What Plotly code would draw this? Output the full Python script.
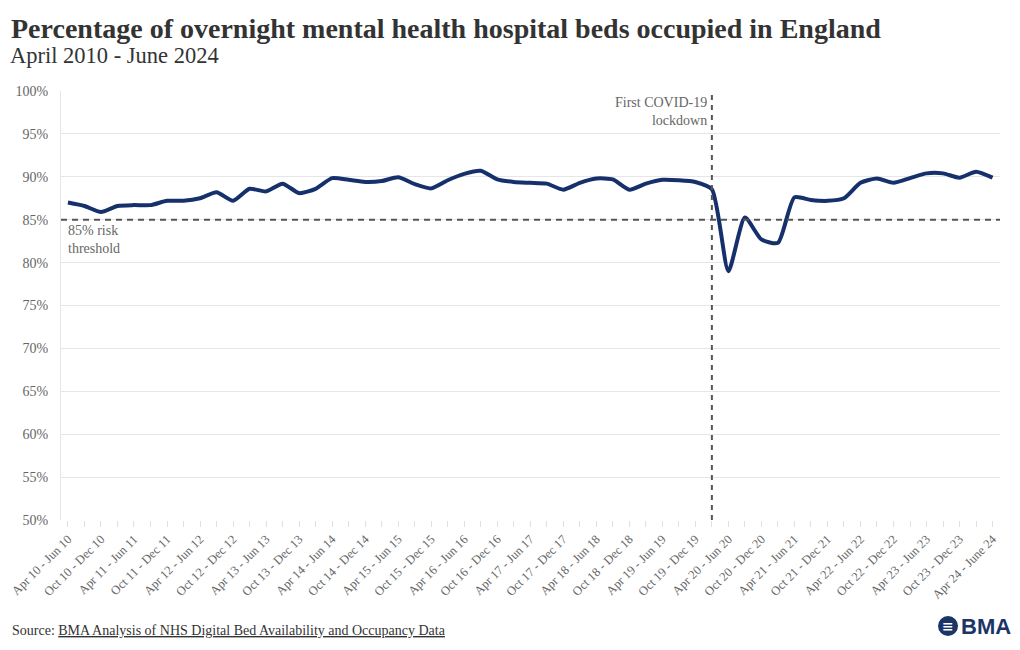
import plotly.graph_objects as go

categories = [
    "Apr 10 - Jun 10", "Jul 10 - Sep 10", "Oct 10 - Dec 10", "Jan 11 - Mar 11",
    "Apr 11 - Jun 11", "Jul 11 - Sep 11", "Oct 11 - Dec 11", "Jan 12 - Mar 12",
    "Apr 12 - Jun 12", "Jul 12 - Sep 12", "Oct 12 - Dec 12", "Jan 13 - Mar 13",
    "Apr 13 - Jun 13", "Jul 13 - Sep 13", "Oct 13 - Dec 13", "Jan 14 - Mar 14",
    "Apr 14 - Jun 14", "Jul 14 - Sep 14", "Oct 14 - Dec 14", "Jan 15 - Mar 15",
    "Apr 15 - Jun 15", "Jul 15 - Sep 15", "Oct 15 - Dec 15", "Jan 16 - Mar 16",
    "Apr 16 - Jun 16", "Jul 16 - Sep 16", "Oct 16 - Dec 16", "Jan 17 - Mar 17",
    "Apr 17 - Jun 17", "Jul 17 - Sep 17", "Oct 17 - Dec 17", "Jan 18 - Mar 18",
    "Apr 18 - Jun 18", "Jul 18 - Sep 18", "Oct 18 - Dec 18", "Jan 19 - Mar 19",
    "Apr 19 - Jun 19", "Jul 19 - Sep 19", "Oct 19 - Dec 19", "Jan 20 - Mar 20",
    "Apr 20 - Jun 20", "Jul 20 - Sep 20", "Oct 20 - Dec 20", "Jan 21 - Mar 21",
    "Apr 21 - Jun 21", "Jul 21 - Sep 21", "Oct 21 - Dec 21", "Jan 22 - Mar 22",
    "Apr 22 - Jun 22", "Jul 22 - Sep 22", "Oct 22 - Dec 22", "Jan 23 - Mar 23",
    "Apr 23 - Jun 23", "Jul 23 - Sep 23", "Oct 23 - Dec 23", "Jan 24 - Mar 24",
    "Apr 24 - June 24",
]

occupancy = [
    87.0, 86.6, 85.9, 86.6, 86.7, 86.7, 87.2, 87.2, 87.5, 88.2,
    87.2, 88.6, 88.3, 89.2, 88.1, 88.6, 89.85, 89.65, 89.4, 89.5,
    89.95, 89.15, 88.65, 89.6, 90.35, 90.7, 89.7, 89.4, 89.3, 89.2,
    88.5, 89.3, 89.8, 89.7, 88.5, 89.2, 89.65, 89.6, 89.4, 88.55,
    79.0, 85.25, 82.7, 82.3, 87.6, 87.3, 87.2, 87.5, 89.3, 89.8,
    89.3, 89.85, 90.4, 90.4, 89.9, 90.6, 89.9,
]

threshold = 85
lockdown_category = "Jan 20 - Mar 20"

tick_text = [c if i % 2 == 0 else "" for i, c in enumerate(categories)]

SERIF = "Liberation Serif, Times New Roman, serif"
NAVY = "#15306b"
GREY = "#555555"

W, H = 1004, 634

fig = go.Figure()
fig.add_trace(go.Scatter(
    x=categories, y=occupancy, mode="lines",
    line=dict(color=NAVY, width=4, shape="spline", smoothing=0.6),
    showlegend=False,
))

fig.add_hline(y=threshold, line=dict(color=GREY, width=2, dash="6px,5px"))
fig.add_shape(type="line", xref="x", yref="paper", x0=lockdown_category, x1=lockdown_category,
              y0=0, y1=1, line=dict(color=GREY, width=2, dash="5px,5px"))

fig.add_annotation(x=categories[0], y=threshold, xref="x", yref="y",
                   text="85% risk<br>threshold", showarrow=False,
                   xanchor="left", yanchor="top", align="left", xshift=-2, yshift=-1,
                   font=dict(family=SERIF, size=14, color="#666666"))
fig.add_annotation(x=lockdown_category, y=100, xref="x", yref="y",
                   text="First COVID-19<br>lockdown", showarrow=False,
                   xanchor="right", yanchor="top", align="right", xshift=-3, yshift=-2,
                   font=dict(family=SERIF, size=14, color="#666666"))

# Subtitle
fig.add_annotation(x=-0.0565, y=1.0816, xref="paper", yref="paper",
                   text="April 2010 - June 2024", showarrow=False,
                   xanchor="left", yanchor="middle",
                   font=dict(family=SERIF, size=22.5, color="#333333"))
# Source
fig.add_annotation(x=-0.0545, y=-0.2587, xref="paper", yref="paper",
                   text="Source: <u>BMA Analysis of NHS Digital Bed Availability and Occupancy Data</u>",
                   showarrow=False, xanchor="left", yanchor="middle",
                   font=dict(family=SERIF, size=14, color="#333333"))

# BMA logo
fig.add_shape(type="circle", xref="paper", yref="paper",
              x0=0.9340, x1=0.9553, y0=-0.2704, y1=-0.2238,
              fillcolor="#1c3567", line=dict(width=0))
fig.add_annotation(x=0.9447, y=-0.2471, xref="paper", yref="paper",
                   text="<b>≡</b>", showarrow=False, xanchor="center", yanchor="middle",
                   font=dict(family="DejaVu Sans", size=14, color="white"))
fig.add_annotation(x=0.9565, y=-0.2471, xref="paper", yref="paper",
                   text="<b>BMA</b>", showarrow=False, xanchor="left", yanchor="middle",
                   font=dict(family="Liberation Sans, Arial, sans-serif", size=22, color="#1c3567"))

fig.update_layout(
    width=W, height=H,
    margin=dict(l=53, r=12, t=83, b=122),
    paper_bgcolor="white", plot_bgcolor="white",
    title=dict(text="<b>Percentage of overnight mental health hospital beds occupied in England</b>",
               x=3 / W, xanchor="left", xref="container",
               y=1 - 20 / H, yanchor="middle", yref="container",
               font=dict(family=SERIF, size=28, color="#333333")),
    font=dict(family=SERIF, color="#666666"),
)

fig.update_xaxes(
    type="category", categoryorder="array", categoryarray=categories,
    tickmode="array", tickvals=categories, ticktext=tick_text,
    tickangle=-45, tickfont=dict(family=SERIF, size=12.5, color="#666666"),
    ticks="outside", ticklen=6, tickcolor="#e0e0e0",
    showgrid=False, showline=False, zeroline=False,
    range=[-0.42, 56.45], automargin=False,
)
fig.update_yaxes(
    range=[50, 100], dtick=5, ticksuffix="%",
    tickfont=dict(family=SERIF, size=14, color="#666666"),
    showgrid=True, gridcolor="#e6e6e6", gridwidth=1,
    showline=True, linecolor="#e6e6e6", linewidth=1,
    zeroline=False, ticklabelstandoff=9, automargin=False,
)

fig.write_html("out.html")
